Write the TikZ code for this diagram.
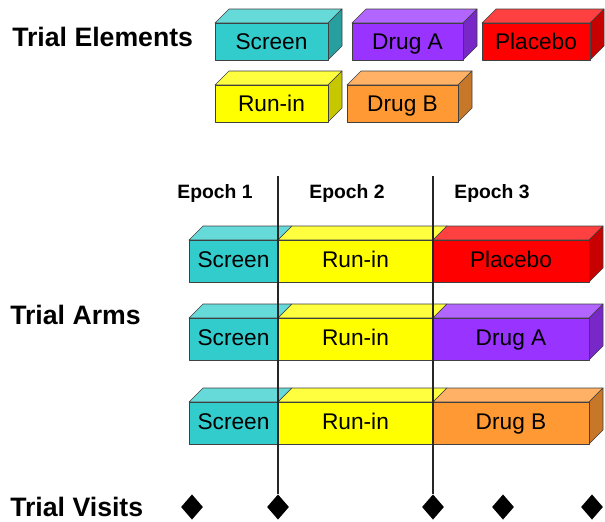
\documentclass[tikz,border=0pt]{standalone}
\usepackage{fontspec}
\setmainfont{Liberation Sans}
\usetikzlibrary{shapes.geometric}

\definecolor{screencol}{RGB}{51,204,204}
\definecolor{drugacol}{RGB}{153,51,255}
\definecolor{placebocol}{RGB}{255,0,0}
\definecolor{runincol}{RGB}{255,255,0}
\definecolor{drugbcol}{RGB}{255,153,51}

\tikzset{
  face/.style={draw=black!75,line width=0.5pt,line join=round},
  lbl/.style={font=\fontsize{17}{20}\selectfont,inner sep=0pt,anchor=base},
  head/.style={font=\fontsize{20}{24}\selectfont\bfseries,anchor=base west,inner sep=0pt},
  epoch/.style={font=\fontsize{14.5}{17}\selectfont\bfseries,inner sep=0pt,anchor=base},
  visit/.style={diamond,fill=black,minimum width=16.5pt,minimum height=19pt,inner sep=0pt},
  cut/.style={draw=black!85,line width=1.1pt}
}

% faces of a block: top, right side, front
\newcommand{\blocktop}[4]{\filldraw[face,fill=#4!75!white] (#1,#3) -- (#2,#3) -- ({#2+14},{#3-14}) -- ({#1+14},{#3-14}) -- cycle;}
\newcommand{\blockside}[4]{\filldraw[face,fill=#4!78!black] (#1,#2) -- ({#1+14},{#2-14}) -- ({#1+14},{#3-14}) -- (#1,#3) -- cycle;}
\newcommand{\blockfront}[5]{\filldraw[face,fill=#5] (#1,#2) rectangle (#3,#4);}

\begin{document}
\begin{tikzpicture}[x=0.75pt,y=-0.75pt]
\useasboundingbox (0,0) rectangle (605,521);

% trial elements
\node[head] (elements) at (12,46) {Trial Elements};
\foreach \xa/\xb/\ya/\yb/\col/\nm/\txt in {215/328/23/60/screencol/elscreen/Screen,
  352/463/23/60/drugacol/eldruga/Drug A, 482/590/23/60/placebocol/elplacebo/Placebo,
  215/328/85/122/runincol/elrunin/Run-in, 347/458/85/122/drugbcol/eldrugb/Drug B}
{
  \blocktop{\xa}{\xb}{\ya}{\col}
  \blockside{\xb}{\ya}{\yb}{\col}
  \blockfront{\xa}{\ya}{\xb}{\yb}{\col}
  \node[lbl] (\nm) at ({(\xa+\xb)/2},{(\ya+\yb)/2+7.5}) {\txt};
}

% epochs
\node[epoch] (epoch1) at (215,198) {Epoch 1};
\node[epoch] (epoch2) at (347,198) {Epoch 2};
\node[epoch] (epoch3) at (492,198) {Epoch 3};

% trial arms
\node[head] (arms) at (10,324) {Trial Arms};
\foreach \y/\col/\nm/\txt in {240/placebocol/placebo/Placebo, 318/drugacol/druga/Drug A, 402/drugbcol/drugb/Drug B}
{
  \blocktop{189}{278}{\y}{screencol}
  \blocktop{278}{433}{\y}{runincol}
  \blocktop{433}{589}{\y}{\col}
  \blockside{589}{\y}{\y+42}{\col}
  \blockfront{189}{\y}{278}{\y+42}{screencol}
  \blockfront{278}{\y}{433}{\y+42}{runincol}
  \blockfront{433}{\y}{589}{\y+42}{\col}
  \node[lbl] (screen\nm) at (233.5,{\y+27.5}) {Screen};
  \node[lbl] (runin\nm) at (355.5,{\y+27.5}) {Run-in};
  \node[lbl] (arm\nm) at (511,{\y+27.5}) {\txt};
}

% trial visits
\node[head] (visits) at (10,516) {Trial Visits};
\foreach \x [count=\i] in {192,278,433,503,592}
  \node[visit] (v\i) at (\x,507) {};

\coordinate (cut1) at (278,176);
\coordinate (cut2) at (433,176);
\draw[cut] (cut1) -- (v2.north);
\draw[cut] (cut2) -- (v3.north);
\end{tikzpicture}
\end{document}
